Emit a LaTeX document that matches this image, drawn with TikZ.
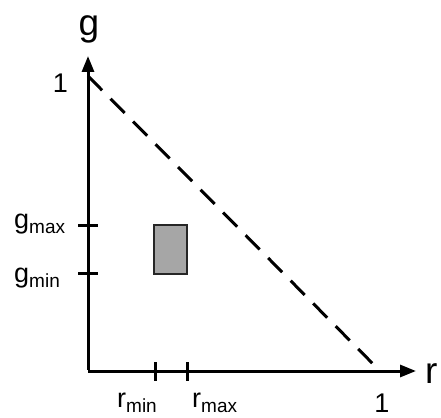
\documentclass[tikz,border=0pt]{standalone}
\usepackage{fontspec}
\setmainfont{Liberation Sans}
\usetikzlibrary{arrows.meta}
\newcommand{\sublab}[2]{#1\raisebox{-5pt}{\fontsize{19}{19}\selectfont #2}}
\begin{document}
\begin{tikzpicture}[x=1pt,y=-1pt,
  axis/.style={line width=3pt,-{Triangle[length=16pt,width=12pt]}},
  tickmark/.style={line width=3pt},
  bound/.style={line width=3pt,dash pattern=on 20pt off 12pt},
  boxr/.style={line width=2.5pt,draw=black!85,fill=black!35},
  lab/.style={inner sep=0pt,font=\fontsize{27}{27}\selectfont},
  axlab/.style={inner sep=0pt,font=\fontsize{37}{37}\selectfont}]
\useasboundingbox (0,0) rectangle (441,417);
\coordinate (O) at (88,371);
\coordinate (Xt) at (416,371);
\coordinate (Yt) at (88,56);
\coordinate (G1) at (88,76);
\coordinate (R1) at (380,371);
\coordinate (gmaxL) at (78,225);
\coordinate (gmaxR) at (98,225);
\coordinate (gminL) at (78,273);
\coordinate (gminR) at (98,273);
\coordinate (rminT) at (155,362);
\coordinate (rminB) at (155,381);
\coordinate (rmaxT) at (187,362);
\coordinate (rmaxB) at (187,381);
\draw[axis] (O) -- (Xt);
\draw[axis] ([yshift=1.5pt]O) -- (Yt);
\draw[bound] (G1) -- (R1);
\draw[tickmark] (gmaxL) -- (gmaxR);
\draw[tickmark] (gminL) -- (gminR);
\draw[tickmark] (rminT) -- (rminB);
\draw[tickmark] (rmaxT) -- (rmaxB);
\draw[boxr] (154,225) rectangle (187,274);
\node[axlab,anchor=base] (glab) at (89,36) {g};
\node[axlab,anchor=base west] (rlab) at (425,383) {r};
\node[lab,anchor=base east] (one g) at (68,93) {1};
\node[lab,anchor=base] (one r) at (382,412) {1};
\node[lab,anchor=base west] (gmax) at (14,228) {\sublab{g}{max}};
\node[lab,anchor=base west] (gmin) at (14,282) {\sublab{g}{min}};
\node[lab,anchor=base west] (rmin) at (117,407) {\sublab{r}{min}};
\node[lab,anchor=base west] (rmax) at (192,407) {\sublab{r}{max}};
\end{tikzpicture}
\end{document}
